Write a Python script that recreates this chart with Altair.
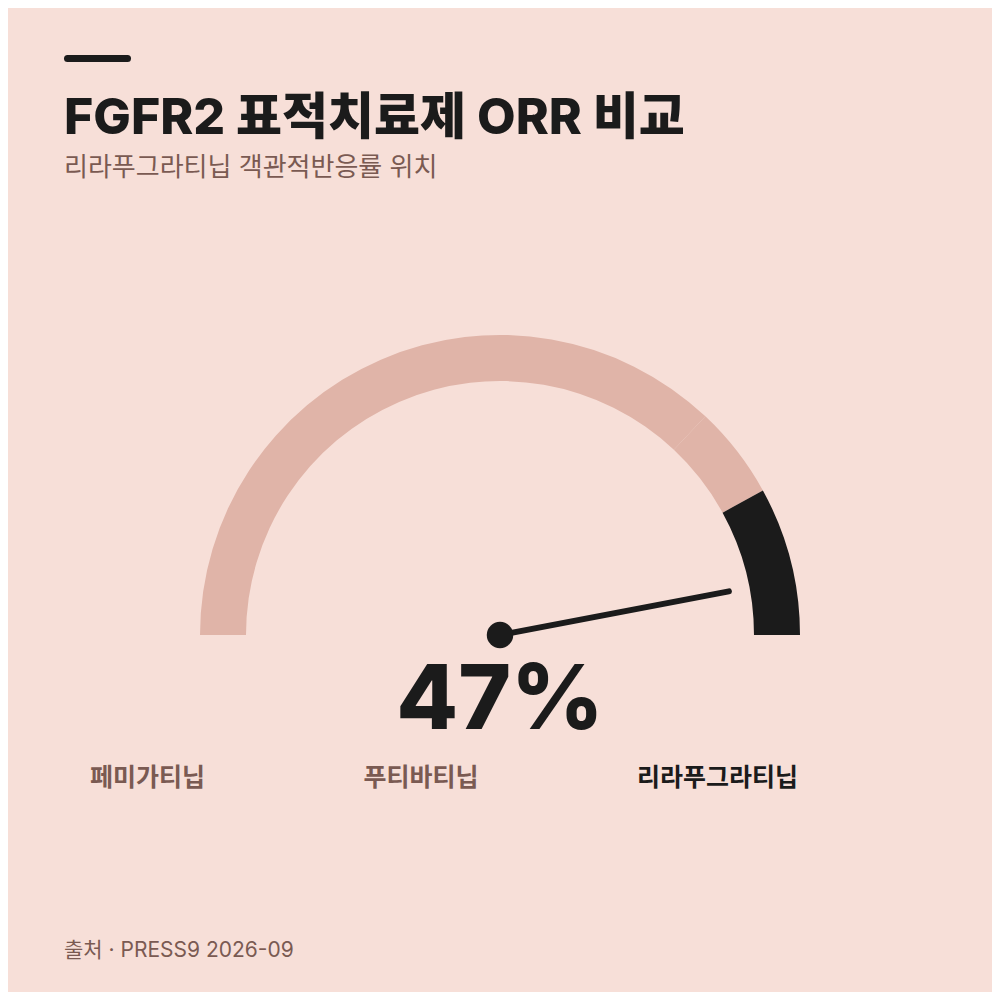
import math
import altair as alt
import pandas as pd

# ---- data ----
drugs = ["페미가티닙", "푸티바티닙", "리라푸그라티닙"]
orr = [37, 42, 47]          # objective response rate (%)
gauge_max = 50
highlight = "리라푸그라티닙"

title_text = "FGFR2 표적치료제 ORR 비교"
subtitle_text = "리라푸그라티닙 객관적반응률 위치"
source_text = "출처 · PRESS9 2026-09"

# ---- styles ----
BG = "#f7dfd8"
DARK = "#1b1b1b"
LIGHT = "#e0b4a8"
BROWN = "#7a5a52"
FONT = "Inter, 'Noto Sans CJK KR', sans-serif"
W = H = 984
CX, CY, R_OUT, R_IN = 492, 627, 300, 254

starts = [0] + orr[:-1]
ends = orr[:-1] + [gauge_max]
seg_df = pd.DataFrame({
    "drug": drugs,
    "start": starts,
    "end": ends,
    "hl": [d == highlight for d in drugs],
})
needle_df = pd.DataFrame({"v": [orr[drugs.index(highlight)]], "x0": [0.0], "y0": [0.0]})
label_df = pd.DataFrame({"drug": drugs, "hl": [d == highlight for d in drugs]})

xs = alt.Scale(domain=[-1, 1], range=[CX - R_OUT, CX + R_OUT], nice=False, zero=False)
ys = alt.Scale(domain=[-1, 1], range=[CY + R_OUT, CY - R_OUT], nice=False, zero=False)

arcs = alt.Chart(seg_df).mark_arc(radius=R_OUT, radius2=R_IN).encode(
    theta=alt.Theta("start:Q", stack=None,
                    scale=alt.Scale(domain=[0, gauge_max], range=[-math.pi / 2, math.pi / 2])),
    theta2=alt.Theta2("end:Q"),
    color=alt.condition(alt.datum.hl, alt.value(DARK), alt.value(LIGHT)),
    x=alt.value(CX),
    y=alt.value(CY),
)

L = 233 / R_OUT
needle = alt.Chart(needle_df).transform_calculate(
    ang=f"PI * (1 - datum.v / {gauge_max})"
).transform_calculate(
    nx=f"{L} * cos(datum.ang)", ny=f"{L} * sin(datum.ang)"
).mark_rule(strokeWidth=6, strokeCap="round", color=DARK).encode(
    x=alt.X("x0:Q", scale=xs, axis=None),
    x2="nx:Q",
    y=alt.Y("y0:Q", scale=ys, axis=None),
    y2="ny:Q",
)

hub = alt.Chart(needle_df).mark_circle(size=700, opacity=1, color=DARK).encode(
    x=alt.X("x0:Q", scale=xs, axis=None),
    y=alt.Y("y0:Q", scale=ys, axis=None),
)

big = alt.Chart(needle_df).transform_calculate(
    lbl="datum.v + '%'"
).mark_text(font=FONT, fontSize=90, fontWeight=800, color=DARK, align="center",
            baseline="alphabetic").encode(
    text="lbl:N", x=alt.value(CX), y=alt.value(721),
)

labels = alt.Chart(label_df).mark_text(font=FONT, fontSize=25, fontWeight=600, align="left",
                                       baseline="alphabetic").encode(
    x=alt.X("drug:N", sort=drugs, scale=alt.Scale(type="point", range=[82, 629], padding=0), axis=None),
    y=alt.value(778),
    text="drug:N",
    color=alt.condition(alt.datum.hl, alt.value(DARK), alt.value(BROWN)),
)

bar = alt.Chart(pd.DataFrame({"a": [0]})).mark_rule(strokeWidth=7, strokeCap="round", color=DARK).encode(
    x=alt.value(59.5), x2=alt.value(119.5), y=alt.value(50.5), y2=alt.value(50.5)
)

def txt(s, y, size, weight, color):
    return alt.Chart(pd.DataFrame({"t": [s]})).mark_text(
        font=FONT, fontSize=size, fontWeight=weight, color=color, align="left", baseline="alphabetic"
    ).encode(text="t:N", x=alt.value(56), y=alt.value(y))

title = txt(title_text, 126, 50, 800, DARK)
subtitle = txt(subtitle_text, 168, 26, 400, BROWN)
source = txt(source_text, 949, 21, 400, BROWN)

chart = alt.layer(arcs, needle, hub, big, labels, bar, title, subtitle, source).resolve_scale(
    x="independent", y="independent"
).properties(
    width=W, height=H, background=BG, padding=0,
    autosize=alt.AutoSizeParams(type="none"),
).configure_view(stroke=None)

chart.save("out.html", embed_options={"renderer": "svg", "actions": False})
